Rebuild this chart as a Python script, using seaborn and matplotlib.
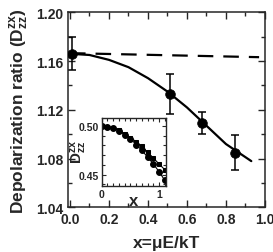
import numpy as np
import pandas as pd
import matplotlib
matplotlib.use("Agg")
import matplotlib.pyplot as plt
import seaborn as sns
from matplotlib.ticker import MultipleLocator, FormatStrFormatter

sns.set_style("ticks")
plt.rcParams['font.family'] = ['Liberation Sans', 'DejaVu Sans']
plt.rcParams['font.weight'] = 'bold'
plt.rcParams['mathtext.fontset'] = 'custom'
plt.rcParams['mathtext.rm'] = 'Liberation Sans:bold'
plt.rcParams['mathtext.bf'] = 'Liberation Sans:bold'
plt.rcParams['mathtext.it'] = 'Liberation Sans:bold'
plt.rcParams['mathtext.default'] = 'regular'

# Measured data (main panel)
x_meas = [0.01, 0.515, 0.678, 0.848]
y_meas = [1.166, 1.133, 1.109, 1.085]
y_err = [0.0135, 0.016, 0.009, 0.014]

# Solid fit curve
x_fit = [0.0, 0.1, 0.2, 0.3, 0.4, 0.5, 0.6, 0.7, 0.8, 0.93]
y_fit = [1.166, 1.165, 1.161, 1.155, 1.146, 1.135, 1.122, 1.107, 1.092, 1.078]

# Dashed line
x_dash = [0.0, 0.97]
y_dash = [1.1665, 1.1632]

# Inset data
x_in = [0.0, 0.1, 0.2, 0.3, 0.4, 0.5, 0.6, 0.7, 0.8, 0.9, 1.0, 1.1]
y_in_sq = [0.500, 0.4995, 0.498, 0.496, 0.492, 0.488, 0.484, 0.479, 0.473, 0.467, 0.461, 0.455]
y_in_ci = [0.500, 0.4995, 0.498, 0.495, 0.491, 0.487, 0.481, 0.475, 0.468, 0.461, 0.453, 0.444]

fig = plt.figure(figsize=(2.73, 2.53), dpi=100)
ax = fig.add_axes([0.250, 0.176, 0.7205, 0.7715])

sns.lineplot(x=x_dash, y=y_dash, ax=ax, color='black', lw=1.6,
             linestyle=(0, (7.0, 4.5)), estimator=None, sort=False)
sns.lineplot(x=x_fit, y=y_fit, ax=ax, color='black', lw=1.6,
             estimator=None, sort=False)
ax.errorbar(x_meas, y_meas, yerr=y_err, fmt='none', ecolor='black',
            elinewidth=1.1, capsize=3.0, capthick=1.1)
sns.scatterplot(x=x_meas, y=y_meas, ax=ax, color='black', s=48,
                edgecolor='black', zorder=5)

ax.set_xlim(-0.009, 1.0)
ax.set_ylim(1.04, 1.20)
ax.xaxis.set_major_locator(MultipleLocator(0.2))
ax.xaxis.set_minor_locator(MultipleLocator(0.1))
ax.yaxis.set_major_locator(MultipleLocator(0.04))
ax.yaxis.set_minor_locator(MultipleLocator(0.02))
ax.xaxis.set_major_formatter(FormatStrFormatter('%.1f'))
ax.yaxis.set_major_formatter(FormatStrFormatter('%.2f'))
ax.tick_params(which='both', direction='in', top=True, right=True,
               width=1.0, labelsize=10)
ax.tick_params(which='major', length=5)
ax.tick_params(which='minor', length=3)
for s in ax.spines.values():
    s.set_linewidth(1.1)
ax.set_xlabel(r'x=μE/kT', fontsize=12.5, fontweight='bold', labelpad=6)
ax.set_ylabel(r'Depolarization ratio (D$^{zx}_{zz}$)', fontsize=12.5,
              fontweight='bold', labelpad=4)

# Inset
axi = fig.add_axes([0.3725, 0.2597, 0.2355, 0.2688])
sns.lineplot(x=x_in, y=y_in_sq, ax=axi, color='black', lw=0.8, marker='s',
             markersize=3.2, markeredgecolor='black', estimator=None)
sns.lineplot(x=x_in, y=y_in_ci, ax=axi, color='black', lw=0.8, marker='o',
             markersize=4.2, markeredgecolor='black', estimator=None)
axi.set_xlim(0, 1.12)
axi.set_ylim(0.438, 0.508)
axi.xaxis.set_major_locator(MultipleLocator(1.0))
axi.xaxis.set_minor_locator(MultipleLocator(0.1))
axi.yaxis.set_major_locator(MultipleLocator(0.05))
axi.yaxis.set_minor_locator(MultipleLocator(0.01))
axi.yaxis.set_major_formatter(FormatStrFormatter('%.2f'))
axi.xaxis.set_major_formatter(FormatStrFormatter('%d'))
axi.tick_params(which='both', direction='in', top=True, right=True,
                width=0.8, labelsize=7.5, pad=2)
axi.tick_params(which='major', length=3)
axi.tick_params(which='minor', length=2)
for s in axi.spines.values():
    s.set_linewidth(1.0)
axi.set_xlabel('x', fontsize=12, fontweight='bold')
axi.xaxis.set_label_coords(0.5, -0.10)
axi.set_ylabel(r'D$^{zx}_{zz}$', fontsize=11, fontweight='bold')
axi.yaxis.set_label_coords(-0.20, 0.52)

fig.savefig('out.png', dpi=100)
